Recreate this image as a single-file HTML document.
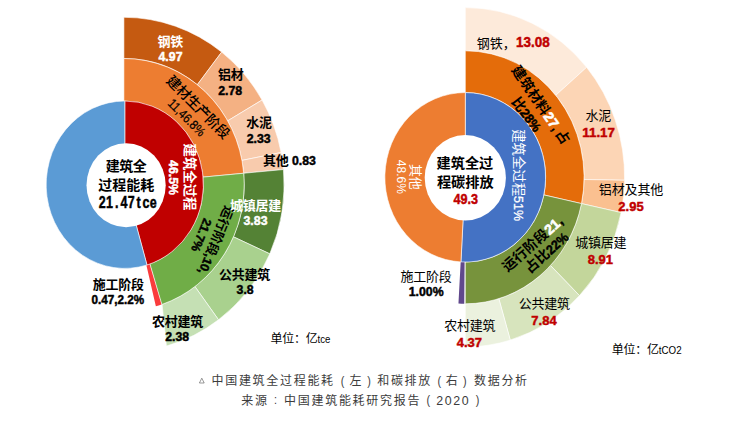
<!DOCTYPE html>
<html lang="zh-CN"><head><meta charset="utf-8"><title>中国建筑全过程能耗和碳排放数据分析</title>
<style>
html,body{margin:0;padding:0;background:#fff;}
body{width:743px;height:423px;overflow:hidden;font-family:"Liberation Sans","Noto Sans CJK SC",sans-serif;}
svg{display:block;}
svg text{font-family:"Liberation Sans","Noto Sans CJK SC",sans-serif;}
</style></head><body>
<svg width="743" height="423" viewBox="0 0 743 423" role="img" aria-label="中国建筑全过程能耗（左）和碳排放（右）数据分析">
<rect width="743" height="423" fill="#fff"/>
<path d="M123.9 17.3A160.2 167.4 0 0 1 221.65 52.07L197.3 84.71A120.3 126.2 0 0 0 123.9 58.5Z" fill="#C55A11" stroke="#fff" stroke-width="0.6" stroke-linejoin="round"/>
<path d="M221.65 52.07A160.2 167.4 0 0 1 262.07 99.99L227.66 120.84A120.3 126.2 0 0 0 197.3 84.71Z" fill="#F4B183" stroke="#fff" stroke-width="0.6" stroke-linejoin="round"/>
<path d="M262.07 99.99A160.2 167.4 0 0 1 281.1 152.47L241.95 160.4A120.3 126.2 0 0 0 227.66 120.84Z" fill="#F8CBAD" stroke="#fff" stroke-width="0.6" stroke-linejoin="round"/>
<path d="M281.1 152.47A160.2 167.4 0 0 1 283.44 169.53L243.7 173.26A120.3 126.2 0 0 0 241.95 160.4Z" fill="#F8CBAD" stroke="#fff" stroke-width="0.6" stroke-linejoin="round"/>
<path d="M283.44 169.53A160.2 167.4 0 0 1 269.79 253.85L233.46 236.83A120.3 126.2 0 0 0 243.7 173.26Z" fill="#548235" stroke="#fff" stroke-width="0.6" stroke-linejoin="round"/>
<path d="M269.79 253.85A160.2 167.4 0 0 1 218.52 319.79L194.95 286.54A120.3 126.2 0 0 0 233.46 236.83Z" fill="#A9D18E" stroke="#fff" stroke-width="0.6" stroke-linejoin="round"/>
<path d="M218.52 319.79A160.2 167.4 0 0 1 166.44 346.09L162.07 304.38A120.3 126.2 0 0 0 194.95 286.54Z" fill="#C5E0B4" stroke="#fff" stroke-width="0.6" stroke-linejoin="round"/>
<path d="M123.9 58.5A120.3 126.2 0 0 1 243.7 173.26L203.07 177.11A79.5 83.7 0 0 0 123.9 101Z" fill="#ED7D31" stroke="#fff" stroke-width="0.6" stroke-linejoin="round"/>
<path d="M243.7 173.26A120.3 126.2 0 0 1 161.87 304.45L149.91 263.79A79.5 83.7 0 0 0 203.07 177.11Z" fill="#70AD47" stroke="#fff" stroke-width="0.6" stroke-linejoin="round"/>
<path d="M161.47 304.59A120.3 126.2 0 0 1 155.85 306.37L146.35 264.99A79.5 83.7 0 0 0 149.52 263.93Z" fill="#FA3C3C"/>
<path d="M124.8 101A78.6 83.7 0 0 1 146.99 264.99L130.45 203.89A20 20 0 0 0 124.8 164.7Z" fill="#C00000" stroke="#fff" stroke-width="0.6" stroke-linejoin="round"/>
<path d="M146.99 264.99A78.6 83.7 0 1 1 124.8 101L124.8 164.7A20 20 0 1 0 130.45 203.89Z" fill="#5B9BD5" stroke="#fff" stroke-width="0.6" stroke-linejoin="round"/>
<ellipse cx="126.1" cy="185.2" rx="39.6" ry="42" fill="#fff"/>
<path d="M465.3 7.6A159.3 169.7 0 0 1 586.61 67.31L555.77 95.31A118.8 126.5 0 0 0 465.3 50.8Z" fill="#FDEADA" stroke="#fff" stroke-width="0.6" stroke-linejoin="round"/>
<path d="M586.61 67.31A159.3 169.7 0 0 1 624.58 180.26L584.08 179.51A118.8 126.5 0 0 0 555.77 95.31Z" fill="#FCD5B5" stroke="#fff" stroke-width="0.6" stroke-linejoin="round"/>
<path d="M624.58 180.26A159.3 169.7 0 0 1 621.12 212.58L581.5 203.6A118.8 126.5 0 0 0 584.08 179.51Z" fill="#FAC090" stroke="#fff" stroke-width="0.6" stroke-linejoin="round"/>
<path d="M621.12 212.58A159.3 169.7 0 0 1 579.5 295.61L550.47 265.49A118.8 126.5 0 0 0 581.5 203.6Z" fill="#C3D69B" stroke="#fff" stroke-width="0.6" stroke-linejoin="round"/>
<path d="M579.5 295.61A159.3 169.7 0 0 1 510.28 340.1L498.84 298.65A118.8 126.5 0 0 0 550.47 265.49Z" fill="#D7E4BD" stroke="#fff" stroke-width="0.6" stroke-linejoin="round"/>
<path d="M510.28 340.1A159.3 169.7 0 0 1 465.3 347L465.3 303.8A118.8 126.5 0 0 0 498.84 298.65Z" fill="#EBF1DE" stroke="#fff" stroke-width="0.6" stroke-linejoin="round"/>
<path d="M465.3 50.8A118.8 126.5 0 0 1 581.5 203.6L543.89 194.92A80.35 84.75 0 0 0 465.3 92.55Z" fill="#E46C0A" stroke="#fff" stroke-width="0.6" stroke-linejoin="round"/>
<path d="M581.5 203.6A118.8 126.5 0 0 1 465.3 303.8L465.3 262.05A80.35 84.75 0 0 0 543.89 194.92Z" fill="#77933C" stroke="#fff" stroke-width="0.6" stroke-linejoin="round"/>
<path d="M464.26 303.8A118.8 126.5 0 0 1 458.46 303.59L460.67 261.91A80.35 84.75 0 0 0 464.6 262.05Z" fill="#60488C"/>
<path d="M465.3 92.55A80.35 84.75 0 1 1 460.95 261.93L464.22 197.27A20 20 0 1 0 465.3 157.3Z" fill="#4472C4" stroke="#fff" stroke-width="0.6" stroke-linejoin="round"/>
<path d="M460.95 261.93A80.35 84.75 0 0 1 465.3 92.55L465.3 157.3A20 20 0 0 0 464.22 197.27Z" fill="#ED7D31" stroke="#fff" stroke-width="0.6" stroke-linejoin="round"/>
<ellipse cx="465.3" cy="177.8" rx="40.6" ry="42.8" fill="#fff"/>
<g transform="translate(170.25,45.6)" aria-label="钢铁"><title>钢铁</title>
<text x="-12.75" y="0" font-size="13" letter-spacing="-0.25" fill="#fff" font-weight="700">钢铁</text>
</g>
<g transform="translate(170.5,60.9)" aria-label="4.97"><title>4.97</title>
<text x="-11.97" y="0" font-size="12.3" fill="#fff" font-weight="700" stroke="#fff" stroke-width="0.45" textLength="23.94" lengthAdjust="spacingAndGlyphs">4.97</text>
</g>
<g transform="translate(230.85,78.8)" aria-label="铝材"><title>铝材</title>
<text x="-12.75" y="0" font-size="13" letter-spacing="-0.25" fill="#000" font-weight="700">铝材</text>
</g>
<g transform="translate(230.1,95.1)" aria-label="2.78"><title>2.78</title>
<text x="-11.97" y="0" font-size="12.3" fill="#000" font-weight="700" stroke="#000" stroke-width="0.45" textLength="23.94" lengthAdjust="spacingAndGlyphs">2.78</text>
</g>
<g transform="translate(258.9,127)" aria-label="水泥"><title>水泥</title>
<text x="-12.75" y="0" font-size="13" letter-spacing="-0.25" fill="#000" font-weight="700">水泥</text>
</g>
<g transform="translate(258.6,143)" aria-label="2.33"><title>2.33</title>
<text x="-11.97" y="0" font-size="12.3" fill="#000" font-weight="700" stroke="#000" stroke-width="0.45" textLength="23.94" lengthAdjust="spacingAndGlyphs">2.33</text>
</g>
<g transform="translate(263,165)" aria-label="其他 0.83"><title>其他 0.83</title>
<text x="0" y="0" font-size="13" letter-spacing="-0.25" fill="#000" font-weight="700">其他</text>
<text x="28.92" y="0" font-size="12.3" fill="#000" font-weight="700" stroke="#000" stroke-width="0.45" textLength="23.94" lengthAdjust="spacingAndGlyphs">0.83</text>
</g>
<g transform="translate(255.5,210)" aria-label="城镇居建"><title>城镇居建</title>
<text x="-25.5" y="0" font-size="13" letter-spacing="-0.25" fill="#fff" font-weight="700">城镇居建</text>
</g>
<g transform="translate(255.5,224.9)" aria-label="3.83"><title>3.83</title>
<text x="-11.97" y="0" font-size="12.3" fill="#fff" font-weight="700" stroke="#fff" stroke-width="0.45" textLength="23.94" lengthAdjust="spacingAndGlyphs">3.83</text>
</g>
<g transform="translate(244.6,279)" aria-label="公共建筑"><title>公共建筑</title>
<text x="-25.5" y="0" font-size="13" letter-spacing="-0.25" fill="#000" font-weight="700">公共建筑</text>
</g>
<g transform="translate(245.1,293.6)" aria-label="3.8"><title>3.8</title>
<text x="-8.55" y="0" font-size="12.3" fill="#000" font-weight="700" stroke="#000" stroke-width="0.45" textLength="17.1" lengthAdjust="spacingAndGlyphs">3.8</text>
</g>
<g transform="translate(177.5,326.2)" aria-label="农村建筑"><title>农村建筑</title>
<text x="-25.5" y="0" font-size="13" letter-spacing="-0.25" fill="#000" font-weight="700">农村建筑</text>
</g>
<g transform="translate(177.2,341)" aria-label="2.38"><title>2.38</title>
<text x="-11.97" y="0" font-size="12.3" fill="#000" font-weight="700" stroke="#000" stroke-width="0.45" textLength="23.94" lengthAdjust="spacingAndGlyphs">2.38</text>
</g>
<g transform="translate(118.3,289)" aria-label="施工阶段"><title>施工阶段</title>
<text x="-25.5" y="0" font-size="13" letter-spacing="-0.25" fill="#000" font-weight="700">施工阶段</text>
</g>
<g transform="translate(117.9,304.3)" aria-label="0.47,2.2%"><title>0.47,2.2%</title>
<text x="-26.31" y="0" font-size="12.3" fill="#000" font-weight="700" stroke="#000" stroke-width="0.45" textLength="52.62" lengthAdjust="spacingAndGlyphs">0.47,2.2%</text>
</g>
<g transform="translate(189.8,177) rotate(90)" aria-label="建筑全过程"><title>建筑全过程</title>
<text x="-33.5" y="5.24" font-size="13.4" fill="#fff" font-weight="700">建筑全过程</text>
</g>
<g transform="translate(173.7,177.5) rotate(90)" aria-label="46.5%"><title>46.5%</title>
<text x="-17.44" y="4.4" font-size="12.3" fill="#fff" font-weight="700" stroke="#fff" stroke-width="0.45" textLength="34.88" lengthAdjust="spacingAndGlyphs">46.5%</text>
</g>
<g transform="translate(198.4,106.8) rotate(45)" aria-label="建材生产阶段"><title>建材生产阶段</title>
<text x="-41.1" y="5.39" font-size="14" letter-spacing="-0.3" fill="#000" font-weight="500">建材生产阶段</text>
</g>
<g transform="translate(186.8,117.5) rotate(45)" aria-label="11,46.8%"><title>11,46.8%</title>
<text x="-23.35" y="4.65" font-size="13" fill="#000" stroke="#000" stroke-width="0.25" textLength="46.69" lengthAdjust="spacingAndGlyphs">11,46.8%</text>
</g>
<g transform="translate(216.5,240.6) rotate(112)" aria-label="运行阶段,10,"><title>运行阶段,10,</title>
<text x="-36.26" y="5.24" font-size="13" fill="#000" font-weight="700">运行阶段</text>
<text x="15.74" y="5.24" font-size="12.3" fill="#000" font-weight="700" stroke="#000" stroke-width="0.45" textLength="20.52" lengthAdjust="spacingAndGlyphs">,10,</text>
</g>
<g transform="translate(201.5,235.2) rotate(112)" aria-label="21.7%"><title>21.7%</title>
<text x="-17.44" y="4.4" font-size="12.3" fill="#000" font-weight="700" stroke="#000" stroke-width="0.45" textLength="34.88" lengthAdjust="spacingAndGlyphs">21.7%</text>
</g>
<g transform="translate(126,171.2)" aria-label="建筑全"><title>建筑全</title>
<text x="-20.25" y="0" font-size="14" letter-spacing="-0.5" fill="#000" font-weight="700">建筑全</text>
</g>
<g transform="translate(126.2,190.2)" aria-label="过程能耗"><title>过程能耗</title>
<text x="-28" y="0" font-size="14" fill="#000" font-weight="700">过程能耗</text>
</g>
<g transform="translate(127.7,208.4)" aria-label="21.47tce"><title>21.47tce</title>
<text x="-29.02" y="0" font-size="16" fill="#000" font-weight="700" stroke="#000" stroke-width="0.45" textLength="6.94" lengthAdjust="spacingAndGlyphs">2</text>
<text x="-21.72" y="0" font-size="16" fill="#000" font-weight="700" stroke="#000" stroke-width="0.45" textLength="6.94" lengthAdjust="spacingAndGlyphs">1</text>
<text x="-12.68" y="0" font-size="16" fill="#000" font-weight="700" stroke="#000" stroke-width="0.45" textLength="3.47" lengthAdjust="spacingAndGlyphs">.</text>
<text x="-7.12" y="0" font-size="16" fill="#000" font-weight="700" stroke="#000" stroke-width="0.45" textLength="6.94" lengthAdjust="spacingAndGlyphs">4</text>
<text x="0.18" y="0" font-size="16" fill="#000" font-weight="700" stroke="#000" stroke-width="0.45" textLength="6.94" lengthAdjust="spacingAndGlyphs">7</text>
<text x="8.87" y="0" font-size="16" fill="#000" font-weight="700" stroke="#000" stroke-width="0.45" textLength="4.16" lengthAdjust="spacingAndGlyphs">t</text>
<text x="14.78" y="0" font-size="16" fill="#000" font-weight="700" stroke="#000" stroke-width="0.45" textLength="6.94" lengthAdjust="spacingAndGlyphs">c</text>
<text x="22.08" y="0" font-size="16" fill="#000" font-weight="700" stroke="#000" stroke-width="0.45" textLength="6.94" lengthAdjust="spacingAndGlyphs">e</text>
</g>
<g transform="translate(270.6,342.7)" aria-label="单位：亿tce"><title>单位：亿tce</title>
<text x="0" y="0" font-size="12" letter-spacing="-0.25" fill="#000">单位：亿</text>
<text x="47" y="0" font-size="11.8" fill="#000" textLength="12.91" lengthAdjust="spacingAndGlyphs">tce</text>
</g>
<g transform="translate(476.7,47.6)" aria-label="钢铁，13.08"><title>钢铁，13.08</title>
<text x="0" y="0" font-size="13" fill="#000">钢铁，</text>
<text x="39.3" y="-1.1" font-size="14" fill="#C00000" font-weight="700" stroke="#C00000" stroke-width="0.45" textLength="33.63" lengthAdjust="spacingAndGlyphs">13.08</text>
</g>
<g transform="translate(598.2,120.3)" aria-label="水泥"><title>水泥</title>
<text x="-12.75" y="0" font-size="13" letter-spacing="-0.25" fill="#000">水泥</text>
</g>
<g transform="translate(598.6,136.8)" aria-label="11.17"><title>11.17</title>
<text x="-16.26" y="0" font-size="13.4" fill="#C00000" font-weight="700" stroke="#C00000" stroke-width="0.45" textLength="32.53" lengthAdjust="spacingAndGlyphs">11.17</text>
</g>
<g transform="translate(631,194.1)" aria-label="铝材及其他"><title>铝材及其他</title>
<text x="-32.25" y="0" font-size="13" letter-spacing="-0.1" fill="#000">铝材及其他</text>
</g>
<g transform="translate(631,211)" aria-label="2.95"><title>2.95</title>
<text x="-12.65" y="0" font-size="13.4" fill="#C00000" font-weight="700" stroke="#C00000" stroke-width="0.45" textLength="25.3" lengthAdjust="spacingAndGlyphs">2.95</text>
</g>
<g transform="translate(600.85,246.7)" aria-label="城镇居建"><title>城镇居建</title>
<text x="-25.5" y="0" font-size="13" letter-spacing="-0.25" fill="#000">城镇居建</text>
</g>
<g transform="translate(600.3,263.6)" aria-label="8.91"><title>8.91</title>
<text x="-12.65" y="0" font-size="13.4" fill="#C00000" font-weight="700" stroke="#C00000" stroke-width="0.45" textLength="25.3" lengthAdjust="spacingAndGlyphs">8.91</text>
</g>
<g transform="translate(544.35,308.4)" aria-label="公共建筑"><title>公共建筑</title>
<text x="-25.5" y="0" font-size="13" letter-spacing="-0.25" fill="#000">公共建筑</text>
</g>
<g transform="translate(544,325.4)" aria-label="7.84"><title>7.84</title>
<text x="-12.65" y="0" font-size="13.4" fill="#C00000" font-weight="700" stroke="#C00000" stroke-width="0.45" textLength="25.3" lengthAdjust="spacingAndGlyphs">7.84</text>
</g>
<g transform="translate(469.8,330.3)" aria-label="农村建筑"><title>农村建筑</title>
<text x="-25.5" y="0" font-size="13" letter-spacing="-0.25" fill="#000">农村建筑</text>
</g>
<g transform="translate(469.35,347)" aria-label="4.37"><title>4.37</title>
<text x="-12.65" y="0" font-size="13.4" fill="#C00000" font-weight="700" stroke="#C00000" stroke-width="0.45" textLength="25.3" lengthAdjust="spacingAndGlyphs">4.37</text>
</g>
<g transform="translate(426,280.5)" aria-label="施工阶段"><title>施工阶段</title>
<text x="-25.5" y="0" font-size="13" letter-spacing="-0.25" fill="#000">施工阶段</text>
</g>
<g transform="translate(426.15,295.7)" aria-label="1.00%"><title>1.00%</title>
<text x="-17.44" y="0" font-size="12.3" fill="#000" font-weight="700" stroke="#000" stroke-width="0.45" textLength="34.88" lengthAdjust="spacingAndGlyphs">1.00%</text>
</g>
<g transform="translate(416.7,176.8) rotate(90)" aria-label="其他"><title>其他</title>
<text x="-12.8" y="5.24" font-size="13" letter-spacing="-0.25" fill="#fff">其他</text>
</g>
<g transform="translate(401.3,176.8) rotate(90)" aria-label="48.6%"><title>48.6%</title>
<text x="-17.01" y="4.3" font-size="12" fill="#fff" textLength="34.03" lengthAdjust="spacingAndGlyphs">48.6%</text>
</g>
<g transform="translate(519.6,175.1) rotate(90)" aria-label="建筑全过程51%"><title>建筑全过程51%</title>
<text x="-45.97" y="5.24" font-size="13.4" fill="#fff">建筑全过程</text>
<text x="21.03" y="5.24" font-size="13.4" fill="#fff" stroke="#fff" stroke-width="0.3" textLength="24.94" lengthAdjust="spacingAndGlyphs">51%</text>
</g>
<g transform="translate(541.3,104.6) rotate(55.5)" aria-label="建筑材料27, 占"><title>建筑材料27, 占</title>
<text x="-45.59" y="5.39" font-size="14" fill="#000" font-weight="700">建筑材料</text>
<text x="10.41" y="5.39" font-size="14" fill="#fff" font-weight="700" stroke="#fff" stroke-width="0.6" textLength="15.57" lengthAdjust="spacingAndGlyphs">27</text>
<text x="25.99" y="5.39" font-size="14" fill="#000" font-weight="700" stroke="#000" stroke-width="0.45" textLength="2.8" lengthAdjust="spacingAndGlyphs">,</text>
<text x="31.59" y="5.39" font-size="14" fill="#000" font-weight="700">占</text>
</g>
<g transform="translate(526.85,114.15) rotate(52.5)" aria-label="比28%"><title>比28%</title>
<text x="-19.55" y="5.39" font-size="14" fill="#000" font-weight="700">比</text>
<text x="-5.55" y="5.39" font-size="13.2" fill="#000" font-weight="700" stroke="#000" stroke-width="0.45" textLength="25.1" lengthAdjust="spacingAndGlyphs">28%</text>
</g>
<g transform="translate(532.2,243.5) rotate(-41.5)" aria-label="运行阶段21,"><title>运行阶段21,</title>
<text x="-37.73" y="5.39" font-size="14" fill="#000" font-weight="700">运行阶段</text>
<text x="18.27" y="5.39" font-size="14" fill="#fff" font-weight="700" stroke="#fff" stroke-width="0.6" textLength="15.57" lengthAdjust="spacingAndGlyphs">21</text>
<text x="33.84" y="5.39" font-size="14" fill="#000" font-weight="700" stroke="#000" stroke-width="0.45" textLength="3.89" lengthAdjust="spacingAndGlyphs">,</text>
</g>
<g transform="translate(546.2,252.2) rotate(-42)" aria-label="占比22%"><title>占比22%</title>
<text x="-26.55" y="5.39" font-size="14" fill="#000" font-weight="700">占比</text>
<text x="1.45" y="5.39" font-size="13.2" fill="#000" font-weight="700" stroke="#000" stroke-width="0.45" textLength="25.1" lengthAdjust="spacingAndGlyphs">22%</text>
</g>
<g transform="translate(464.9,168.3)" aria-label="建筑全过"><title>建筑全过</title>
<text x="-28.4" y="0" font-size="14.2" fill="#000" font-weight="700">建筑全过</text>
</g>
<g transform="translate(465.3,186.6)" aria-label="程碳排放"><title>程碳排放</title>
<text x="-28.4" y="0" font-size="14.2" fill="#000" font-weight="700">程碳排放</text>
</g>
<g transform="translate(465.8,203.9)" aria-label="49.3"><title>49.3</title>
<text x="-12.26" y="0" font-size="14" fill="#C00000" font-weight="700" stroke="#C00000" stroke-width="0.45" textLength="24.52" lengthAdjust="spacingAndGlyphs">49.3</text>
</g>
<g transform="translate(611.8,353.6)" aria-label="单位：亿tCO2"><title>单位：亿tCO2</title>
<text x="0" y="0" font-size="12" letter-spacing="-0.25" fill="#000">单位：亿</text>
<text x="47" y="0" font-size="11.5" fill="#000" textLength="22.81" lengthAdjust="spacingAndGlyphs">tCO2</text>
</g>
<path d="M199.4 383L201.8 378.2L204.2 383Z" fill="none" stroke="#555" stroke-width="0.6"/>
<g transform="translate(211.5,385.3)" aria-label="中国建筑全过程能耗"><title>中国建筑全过程能耗</title>
<text x="0" y="0" font-size="12" letter-spacing="1.7" fill="#3c3c3c">中国建筑全过程能耗</text>
</g>
<g transform="translate(342.55,385)" aria-label="("><title>(</title>
<text x="-1.8" y="0" font-size="12" fill="#3c3c3c" textLength="3.6" lengthAdjust="spacingAndGlyphs">(</text>
</g>
<g transform="translate(355.75,385.3)" aria-label="左"><title>左</title>
<text x="-6.3" y="0" font-size="12" fill="#3c3c3c">左</text>
</g>
<g transform="translate(369.15,385)" aria-label=")"><title>)</title>
<text x="-1.8" y="0" font-size="12" fill="#3c3c3c" textLength="3.6" lengthAdjust="spacingAndGlyphs">)</text>
</g>
<g transform="translate(377.2,385.3)" aria-label="和碳排放"><title>和碳排放</title>
<text x="0" y="0" font-size="12" letter-spacing="1.7" fill="#3c3c3c">和碳排放</text>
</g>
<g transform="translate(439.35,385)" aria-label="("><title>(</title>
<text x="-1.8" y="0" font-size="12" fill="#3c3c3c" textLength="3.6" lengthAdjust="spacingAndGlyphs">(</text>
</g>
<g transform="translate(452.05,385.3)" aria-label="右"><title>右</title>
<text x="-6.3" y="0" font-size="12" fill="#3c3c3c">右</text>
</g>
<g transform="translate(464.8,385)" aria-label=")"><title>)</title>
<text x="-1.8" y="0" font-size="12" fill="#3c3c3c" textLength="3.6" lengthAdjust="spacingAndGlyphs">)</text>
</g>
<g transform="translate(474,385.3)" aria-label="数据分析"><title>数据分析</title>
<text x="0" y="0" font-size="12" letter-spacing="1.7" fill="#3c3c3c">数据分析</text>
</g>
<g transform="translate(241.3,404.6)" aria-label="来源"><title>来源</title>
<text x="0" y="0" font-size="12" letter-spacing="1.7" fill="#3c3c3c">来源</text>
</g>
<g transform="translate(275.5,404.1)" aria-label=":"><title>:</title>
<text x="-1.5" y="0" font-size="12" fill="#3c3c3c" textLength="3" lengthAdjust="spacingAndGlyphs">:</text>
</g>
<g transform="translate(284.1,404.6)" aria-label="中国建筑能耗研究报告"><title>中国建筑能耗研究报告</title>
<text x="0" y="0" font-size="12" letter-spacing="1.7" fill="#3c3c3c">中国建筑能耗研究报告</text>
</g>
<g transform="translate(428.3,404.3)" aria-label="("><title>(</title>
<text x="-1.8" y="0" font-size="12" fill="#3c3c3c" textLength="3.6" lengthAdjust="spacingAndGlyphs">(</text>
</g>
<g transform="translate(452.5,404.6)" aria-label="2020"><title>2020</title>
<text x="-16.19" y="0" font-size="12.4" fill="#3c3c3c" textLength="6.9" lengthAdjust="spacingAndGlyphs">2</text>
<text x="-7.7" y="0" font-size="12.4" fill="#3c3c3c" textLength="6.9" lengthAdjust="spacingAndGlyphs">0</text>
<text x="0.8" y="0" font-size="12.4" fill="#3c3c3c" textLength="6.9" lengthAdjust="spacingAndGlyphs">2</text>
<text x="9.3" y="0" font-size="12.4" fill="#3c3c3c" textLength="6.9" lengthAdjust="spacingAndGlyphs">0</text>
</g>
<g transform="translate(477.5,404.3)" aria-label=")"><title>)</title>
<text x="-1.8" y="0" font-size="12" fill="#3c3c3c" textLength="3.6" lengthAdjust="spacingAndGlyphs">)</text>
</g>
</svg>
</body></html>
